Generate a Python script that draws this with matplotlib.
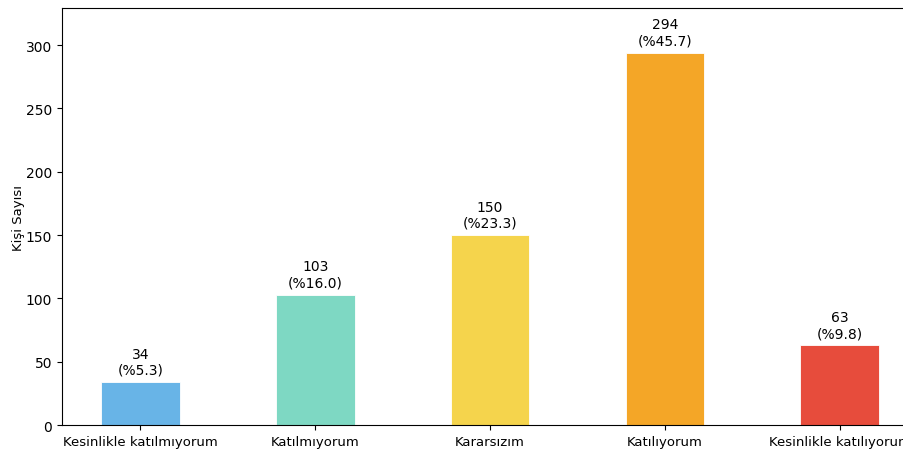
import matplotlib
matplotlib.use("Agg")
import matplotlib.pyplot as plt

categories = ["Kesinlikle katılmıyorum", "Katılmıyorum", "Kararsızım", "Katılıyorum", "Kesinlikle katılıyorum"]
counts = [34, 103, 150, 294, 63]
percents = [5.3, 16.0, 23.3, 45.7, 9.8]
colors = ["#68B4E7", "#7ED8C3", "#F5D44C", "#F4A627", "#E74C3C"]

fig = plt.figure(figsize=(9.04, 4.52), dpi=100)
# axes extends past the right edge, like the cropped original
ax = fig.add_axes([0.0686, 0.0575, 0.947, 0.9225])

x = range(len(categories))
bars = ax.bar(x, counts, width=0.45, color=colors, edgecolor="white", linewidth=0.6)

for b, c, p in zip(bars, counts, percents):
    ax.text(b.get_x() + b.get_width() / 2, c + 4, "{}\n(%{:.1f})".format(c, p),
            ha="center", va="bottom", fontsize=10)

ax.set_xticks(list(x))
ax.set_xticklabels(categories, fontsize=9.5)
ax.tick_params(axis="y", labelsize=10)
ax.set_ylabel("Kişi Sayısı", fontsize=9.5, labelpad=1)
ax.set_ylim(0, max(counts) * 1.12)

fig.savefig("out.png", dpi=100)
